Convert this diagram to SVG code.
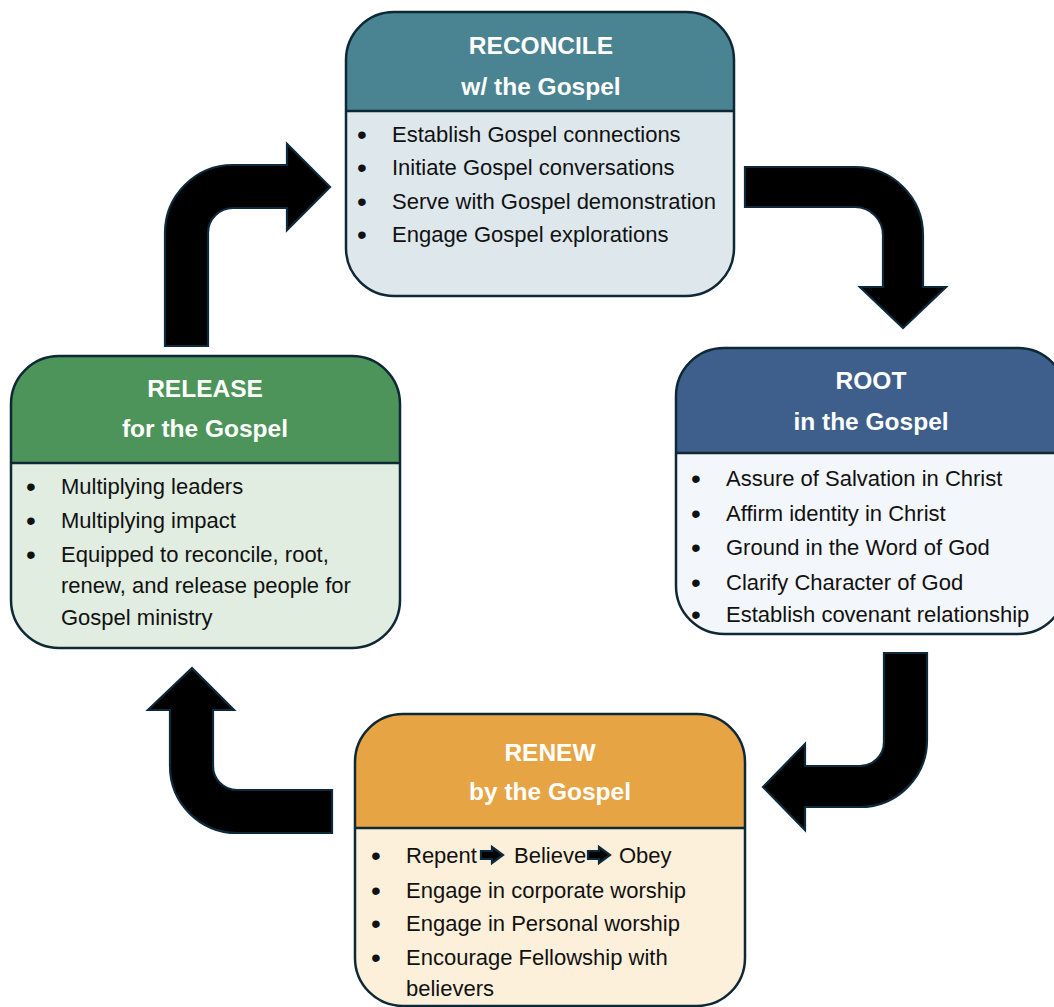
<svg xmlns="http://www.w3.org/2000/svg" width="1054" height="1007" viewBox="0 0 1054 1007">
<style>
.outline{fill:none;stroke:#0f2836;stroke-width:2.5}
.div{stroke:#0f2836;stroke-width:2.5}
.title{font-family:"Liberation Sans",Arial,sans-serif;font-weight:bold;font-size:24.5px;fill:#ffffff;text-anchor:middle}
.item{font-family:"Liberation Sans",Arial,sans-serif;font-size:22px;fill:#111111}
.dot{font-family:"Liberation Sans",Arial,sans-serif;font-size:28px;fill:#111111;text-anchor:middle}
.arrow{fill:#000000;stroke:#0c2a3b;stroke-width:2.2;stroke-linejoin:miter}
</style>
<rect width="1054" height="1007" fill="#ffffff"/>

<g id="connectors">
  <!-- Release -> Reconcile -->
  <path class="arrow" d="M165,346 V233 A68,68 0 0 1 233,165 H287 V144 L330,187 L287,230 V208 H233 A25,25 0 0 0 208,233 V346 Z"/>
  <!-- Reconcile -> Root -->
  <path class="arrow" d="M745,167 H855 A68,68 0 0 1 923,235 V287 H946 L903,328 L860,287 H883 V235 A28,28 0 0 0 855,207 H745 Z"/>
  <!-- Root -> Renew -->
  <path class="arrow" d="M884,653 H927 V740 A67,67 0 0 1 860,807 H805 V830 L763,787 L805,744 V766 H860 A24,24 0 0 0 884,742 Z"/>
  <!-- Renew -> Release -->
  <path class="arrow" d="M332,833 H237 A67,67 0 0 1 170,766 V710 H148 L192,668 L234,710 H213 V766 A24,24 0 0 0 237,790 H332 Z"/>
</g>

<g id="reconcile">
  <rect x="346" y="12" width="388" height="284" rx="48" fill="#dee8ec"/>
  <path d="M346,111 V60 A48,48 0 0 1 394,12 H686 A48,48 0 0 1 734,60 V111 Z" fill="#4a8391"/>
  <rect class="outline" x="346" y="12" width="388" height="284" rx="48"/>
  <line class="div" x1="346" y1="111" x2="734" y2="111"/>
  <text class="title" x="541" y="54">RECONCILE</text>
  <text class="title" x="541" y="95">w/ the Gospel</text>
  <text class="dot" x="362" y="144">•</text><text class="item" x="392" y="142">Establish Gospel connections</text>
  <text class="dot" x="362" y="177">•</text><text class="item" x="392" y="175">Initiate Gospel conversations</text>
  <text class="dot" x="362" y="211">•</text><text class="item" x="392" y="209">Serve with Gospel demonstration</text>
  <text class="dot" x="362" y="244">•</text><text class="item" x="392" y="242">Engage Gospel explorations</text>
</g>

<g id="release">
  <rect x="11" y="356" width="389" height="292" rx="48" fill="#e0ede0"/>
  <path d="M11,463 V404 A48,48 0 0 1 59,356 H352 A48,48 0 0 1 400,404 V463 Z" fill="#4c9459"/>
  <rect class="outline" x="11" y="356" width="389" height="292" rx="48"/>
  <line class="div" x1="11" y1="463" x2="400" y2="463"/>
  <text class="title" x="205" y="397">RELEASE</text>
  <text class="title" x="205" y="437">for the Gospel</text>
  <text class="dot" x="31" y="496">•</text><text class="item" x="61" y="494">Multiplying leaders</text>
  <text class="dot" x="31" y="530">•</text><text class="item" x="61" y="528">Multiplying impact</text>
  <text class="dot" x="31" y="564">•</text><text class="item" x="61" y="562">Equipped to reconcile, root,</text>
  <text class="item" x="61" y="593">renew, and release people for</text>
  <text class="item" x="61" y="625">Gospel ministry</text>
</g>

<g id="root">
  <rect x="676" y="348" width="390" height="286" rx="48" fill="#f3f6fa"/>
  <path d="M676,453 V396 A48,48 0 0 1 724,348 H1018 A48,48 0 0 1 1066,396 V453 Z" fill="#3e5f8b"/>
  <rect class="outline" x="676" y="348" width="390" height="286" rx="48"/>
  <line class="div" x1="676" y1="453" x2="1066" y2="453"/>
  <text class="title" x="871" y="389">ROOT</text>
  <text class="title" x="871" y="430">in the Gospel</text>
  <text class="dot" x="696" y="488">•</text><text class="item" x="726" y="486">Assure of Salvation in Christ</text>
  <text class="dot" x="696" y="523">•</text><text class="item" x="726" y="521">Affirm identity in Christ</text>
  <text class="dot" x="696" y="557">•</text><text class="item" x="726" y="555">Ground in the Word of God</text>
  <text class="dot" x="696" y="592">•</text><text class="item" x="726" y="590">Clarify Character of God</text>
  <text class="dot" x="696" y="624">•</text><text class="item" x="726" y="622">Establish covenant relationship</text>
</g>

<g id="renew">
  <rect x="355" y="714" width="390" height="292" rx="48" fill="#fdf0da"/>
  <path d="M355,828 V762 A48,48 0 0 1 403,714 H697 A48,48 0 0 1 745,762 V828 Z" fill="#e6a444"/>
  <rect class="outline" x="355" y="714" width="390" height="292" rx="48"/>
  <line class="div" x1="355" y1="828" x2="745" y2="828"/>
  <text class="title" x="550" y="761">RENEW</text>
  <text class="title" x="550" y="800">by the Gospel</text>
  <text class="dot" x="376" y="865">•</text><text class="item" x="406" y="863">Repent</text>
  <path class="arrow" stroke-width="1.5" d="M481,851 H492 V847 L503,855 L492,863 V859 H481 Z"/>
  <text class="item" x="514" y="863">Believe</text>
  <path class="arrow" stroke-width="1.5" d="M588,851 H599 V847 L610,855 L599,863 V859 H588 Z"/>
  <text class="item" x="619" y="863">Obey</text>
  <text class="dot" x="376" y="900">•</text><text class="item" x="406" y="898">Engage in corporate worship</text>
  <text class="dot" x="376" y="933">•</text><text class="item" x="406" y="931">Engage in Personal worship</text>
  <text class="dot" x="376" y="967">•</text><text class="item" x="406" y="965">Encourage Fellowship with</text>
  <text class="item" x="406" y="996">believers</text>
</g>
</svg>
